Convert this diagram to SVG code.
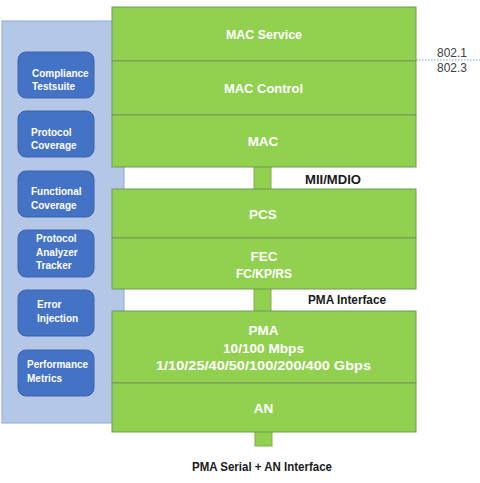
<svg xmlns="http://www.w3.org/2000/svg" width="480" height="483" viewBox="0 0 480 483">
<style>
.panel{fill:#B4C7E7;stroke:#8EA9DB;stroke-width:1}
.tool{fill:#4472C4;stroke:#3A64AE;stroke-width:1}
.tt{font-family:"Liberation Sans",Arial,sans-serif;font-weight:bold;font-size:10px;fill:#FFFFFF}
.layer{fill:#92D050;stroke:#6E9A58;stroke-width:1}
.lt{font-family:"Liberation Sans",Arial,sans-serif;font-weight:bold;font-size:13.5px;fill:#FFFFFF;text-anchor:middle}
.stub{fill:#92D050;stroke:#7FAF4A;stroke-width:1}
.lbl{font-family:"Liberation Sans",Arial,sans-serif;font-weight:bold;font-size:12px;fill:#1a1a1a}
.std{font-family:"Liberation Sans",Arial,sans-serif;font-size:12px;fill:#404040;text-anchor:middle}
</style>
<rect width="480" height="483" fill="#FFFFFF"/>
<g id="panel"><rect class="panel" x="2" y="21" width="122" height="402"/></g>
<g id="connectors">
<rect class="stub" x="254" y="166" width="17" height="24"/>
<rect class="stub" x="254" y="288" width="17" height="24"/>
<rect class="stub" x="255" y="431" width="17" height="15"/>
<line x1="416" y1="60" x2="480" y2="60" stroke="#7F9FCF" stroke-width="1" stroke-dasharray="1.5,1.5"/>
</g>
<g id="tool-compliance"><rect class="tool" x="18" y="52" width="76" height="46" rx="8"/><text class="tt" x="32" y="77">Compliance</text><text class="tt" x="32" y="90">Testsuite</text></g>
<g id="tool-protocol-coverage"><rect class="tool" x="18" y="111" width="76" height="46" rx="8"/><text class="tt" x="31" y="136">Protocol</text><text class="tt" x="31" y="149">Coverage</text></g>
<g id="tool-functional-coverage"><rect class="tool" x="18" y="171" width="76" height="46" rx="8"/><text class="tt" x="31" y="195">Functional</text><text class="tt" x="31" y="209">Coverage</text></g>
<g id="tool-analyzer"><rect class="tool" x="18" y="230" width="76" height="47" rx="8"/><text class="tt" x="36" y="242">Protocol</text><text class="tt" x="36" y="256">Analyzer</text><text class="tt" x="36" y="269">Tracker</text></g>
<g id="tool-error"><rect class="tool" x="18" y="290" width="76" height="46" rx="8"/><text class="tt" x="37" y="308">Error</text><text class="tt" x="37" y="322">Injection</text></g>
<g id="tool-performance"><rect class="tool" x="18" y="350" width="76" height="46" rx="8"/><text class="tt" x="27" y="368">Performance</text><text class="tt" x="27" y="382">Metrics</text></g>
<g id="layer-mac-service"><rect class="layer" x="112" y="7" width="304" height="54"/><text class="lt" x="264" y="39" textLength="76" lengthAdjust="spacingAndGlyphs">MAC Service</text></g>
<g id="layer-mac-control"><rect class="layer" x="112" y="61" width="304" height="54"/><text class="lt" x="263.5" y="93" textLength="79" lengthAdjust="spacingAndGlyphs">MAC Control</text></g>
<g id="layer-mac"><rect class="layer" x="112" y="115" width="304" height="52"/><text class="lt" x="263" y="146">MAC</text></g>
<g id="layer-pcs"><rect class="layer" x="112" y="189" width="304" height="49"/><text class="lt" x="263" y="219">PCS</text></g>
<g id="layer-fec"><rect class="layer" x="112" y="238" width="304" height="51"/><text class="lt" x="264" y="261">FEC</text><text class="lt" x="264" y="278" textLength="56" lengthAdjust="spacingAndGlyphs">FC/KP/RS</text></g>
<g id="layer-pma"><rect class="layer" x="112" y="311" width="304" height="72"/><text class="lt" x="263.5" y="335">PMA</text><text class="lt" x="263.5" y="353" textLength="81" lengthAdjust="spacingAndGlyphs">10/100 Mbps</text><text class="lt" x="263.5" y="370" textLength="215" lengthAdjust="spacingAndGlyphs">1/10/25/40/50/100/200/400 Gbps</text></g>
<g id="layer-an"><rect class="layer" x="112" y="383" width="304" height="49"/><text class="lt" x="263.5" y="413">AN</text></g>
<g id="labels">
<text class="lbl" x="305" y="184" textLength="56" lengthAdjust="spacingAndGlyphs">MII/MDIO</text>
<text class="lbl" x="308" y="304" textLength="78" lengthAdjust="spacingAndGlyphs">PMA Interface</text>
<text class="lbl" x="262" y="471" text-anchor="middle" textLength="140" lengthAdjust="spacingAndGlyphs">PMA Serial + AN Interface</text>
<text class="std" x="452" y="57">802.1</text>
<text class="std" x="452" y="72">802.3</text>
</g>
</svg>
